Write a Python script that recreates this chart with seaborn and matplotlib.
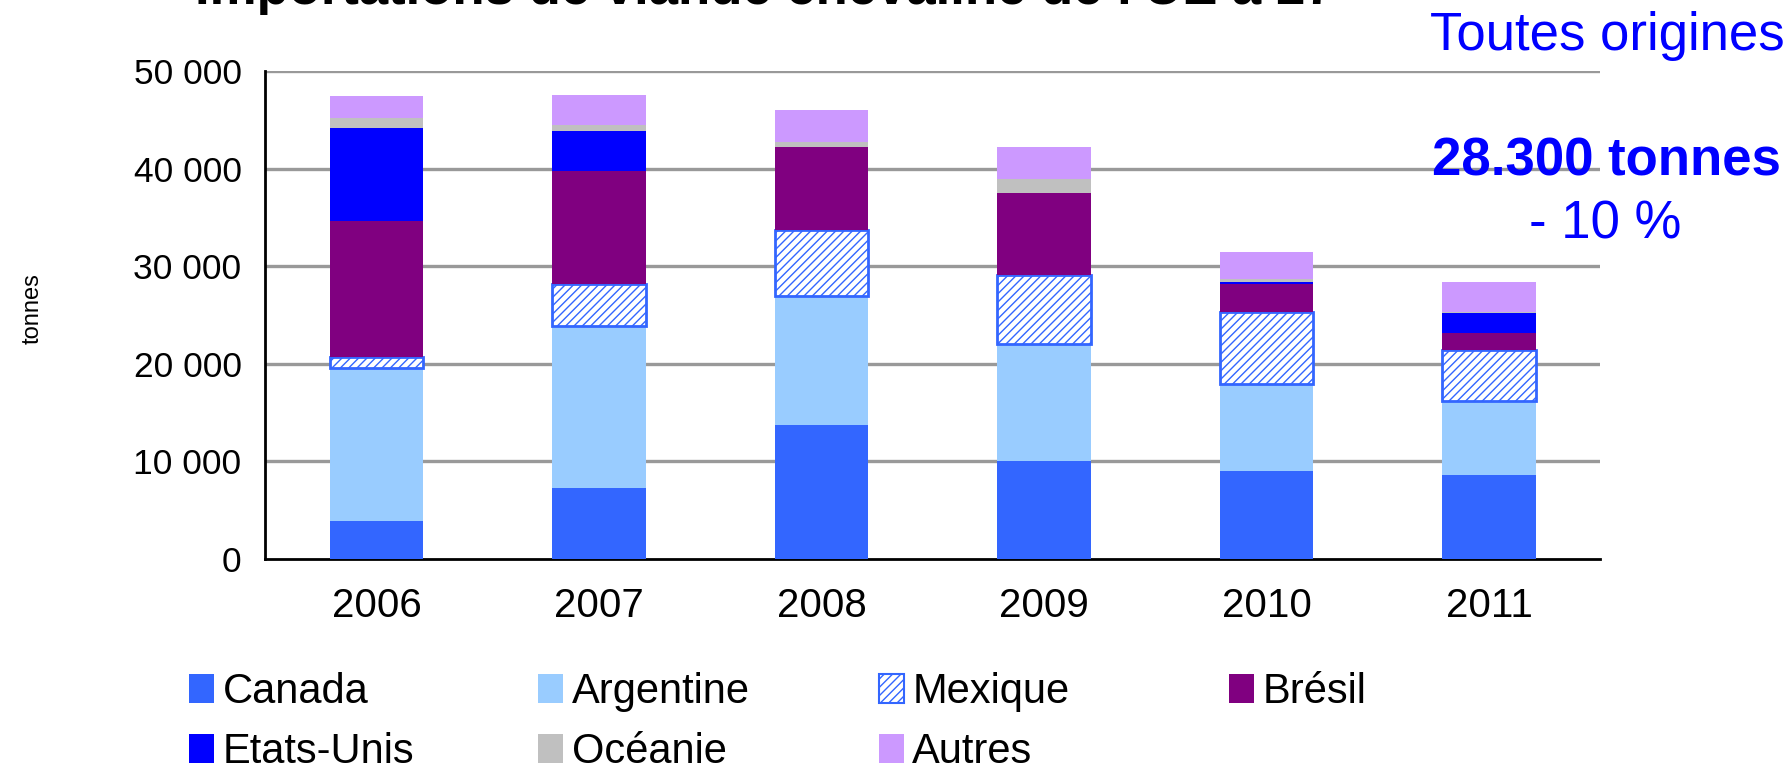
import numpy as np
import pandas as pd
import matplotlib
matplotlib.use("Agg")
import matplotlib.pyplot as plt
import seaborn as sns
from matplotlib.patches import Patch

# Data (tonnes)
years = ["2006", "2007", "2008", "2009", "2010", "2011"]
canada = [3900, 7300, 13700, 10000, 9000, 8600]
argentine = [15700, 16600, 13200, 12050, 8950, 7600]
mexique = [1100, 4300, 6800, 7050, 7400, 5250]
bresil = [13900, 11500, 8500, 8400, 2800, 1750]
etats_unis = [9600, 4100, 0, 0, 200, 1950]
oceanie = [1000, 700, 500, 1450, 300, 200]
autres = [2250, 3000, 3300, 3300, 2800, 3050]

series_names = ["Canada", "Argentine", "Mexique", "Brésil", "Etats-Unis", "Océanie", "Autres"]
series_values = [canada, argentine, mexique, bresil, etats_unis, oceanie, autres]
colors = ["#3366FF", "#99CCFF", "#FFFFFF", "#800080", "#0000FF", "#C0C0C0", "#CC99FF"]

ytick_vals = [0, 10000, 20000, 30000, 40000, 50000]
ytick_labels = ["0", "10 000", "20 000", "30 000", "40 000", "50 000"]

sns.set_style("white")
plt.rcParams["font.family"] = ["Liberation Sans", "DejaVu Sans"]
plt.rcParams["text.color"] = "black"
plt.rcParams["xtick.color"] = "black"
plt.rcParams["ytick.color"] = "black"
plt.rcParams["hatch.linewidth"] = 1.0

fig = plt.figure(figsize=(17.92, 7.71), dpi=100)
ax = fig.add_axes([0.148, 0.275, 0.745, 0.633])

bottom = np.zeros(len(years))
for name, vals, col in zip(series_names, series_values, colors):
    df = pd.DataFrame({"annee": years, "tonnes": vals})
    if name == "Mexique":
        sns.barplot(data=df, x="annee", y="tonnes", order=years, ax=ax, bottom=bottom,
                    color=col, saturation=1, width=0.42, edgecolor="#3366FF",
                    linewidth=2, hatch="////", zorder=3)
    else:
        sns.barplot(data=df, x="annee", y="tonnes", order=years, ax=ax, bottom=bottom,
                    color=col, saturation=1, width=0.42, linewidth=0, zorder=3)
    bottom = bottom + np.array(vals)

ax.set_xlim(-0.5, len(years) - 0.5)
ax.set_ylim(0, 50000)
ax.set_yticks(ytick_vals)
ax.set_yticklabels(ytick_labels, fontsize=25.5)
ax.set_xticks(range(len(years)))
ax.set_xticklabels(years, fontsize=29)
ax.set_xticks(np.arange(-0.5, len(years), 1), minor=True)
ax.tick_params(axis="x", which="major", length=0, pad=20)
ax.tick_params(axis="x", which="minor", length=12, width=2, direction="out", color="black")
ax.tick_params(axis="y", length=9, width=2, direction="out", color="black", pad=8)
ax.set_xlabel("")
ax.set_ylabel("")

for v in ytick_vals[1:]:
    ax.axhline(v, color="#999999", lw=2.4, zorder=1)

for s in ["top", "right"]:
    ax.spines[s].set_visible(False)
for s in ["left", "bottom"]:
    ax.spines[s].set_color("black")
    ax.spines[s].set_linewidth(2)

fig.text(0.018, 0.6, "tonnes", rotation=90, fontsize=17, ha="center", va="center")

# title, cut off at the top in the reference
fig.text(0.109, 0.995, "Importations de viande chevaline de l'UE à 27", fontsize=38,
         fontweight="bold", ha="left", va="baseline")

fig.text(0.996, 0.953, "Toutes origines", color="#0000FF", fontsize=38, ha="right", va="center")
fig.text(0.994, 0.79, "28.300 tonnes", color="#0000FF", fontsize=38, fontweight="bold",
         ha="right", va="center")
fig.text(0.896, 0.709, "- 10 %", color="#0000FF", fontsize=38, ha="center", va="center")

# legend laid out column by column, as in the reference
handles = {}
for name, col in zip(series_names, colors):
    if name == "Mexique":
        handles[name] = Patch(facecolor=col, edgecolor="#3366FF", hatch="////", linewidth=1.5)
    else:
        handles[name] = Patch(facecolor=col, edgecolor="none")

legend_cols = [["Canada", "Etats-Unis"], ["Argentine", "Océanie"], ["Mexique", "Autres"], ["Brésil"]]
legend_x = [0.1055, 0.3005, 0.4905, 0.686]
for names, x in zip(legend_cols, legend_x):
    fig.legend([handles[n] for n in names], names, loc="upper left",
               bbox_to_anchor=(x, 0.128), frameon=False, fontsize=30,
               handlelength=0.6, handleheight=0.7, handletextpad=0.2,
               labelspacing=0.48, borderpad=0, borderaxespad=0)

fig.savefig("out.png", dpi=100)
